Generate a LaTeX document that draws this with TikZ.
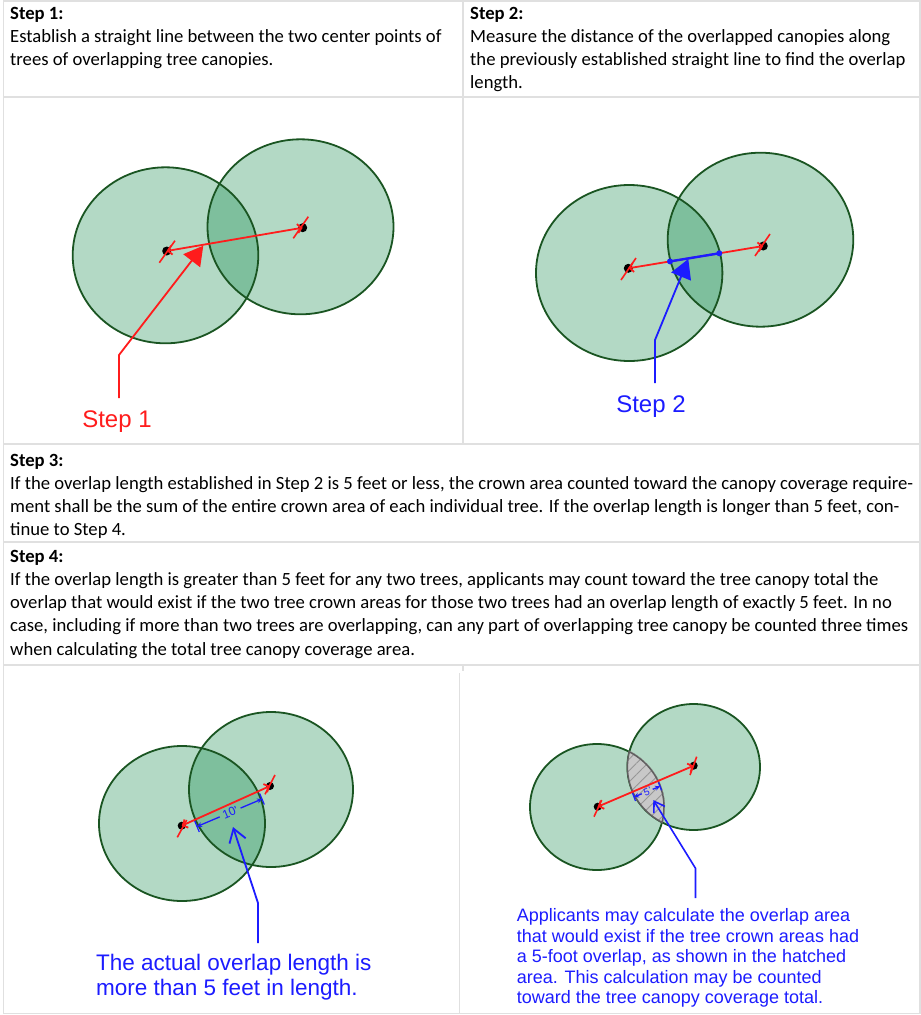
\documentclass[tikz,border=0pt]{standalone}
\usepackage{fontspec}
\setmainfont{Carlito}
\newfontfamily\labelfont{Liberation Sans}
\usetikzlibrary{arrows.meta,calc,patterns.meta}

\definecolor{canopy}{RGB}{5,132,65}
\definecolor{canopyline}{RGB}{26,85,34}
\definecolor{gridgray}{RGB}{224,224,224}
\definecolor{redline}{RGB}{255,28,28}
\definecolor{blueline}{RGB}{28,28,255}
\definecolor{lensgray}{RGB}{200,200,200}
\definecolor{lensline}{RGB}{95,95,95}
\definecolor{hatchgray}{RGB}{150,150,150}

\newlength\refwd
\newcommand\bodyfont{\fontsize{\bodysize}{23.3}\selectfont}
\AtBeginDocument{%
  \settowidth\refwd{\fontsize{10}{12}\selectfont If the overlap length established in Step 2 is 5 feet or less, the crown area counted toward the canopy coverage require-}%
  \pgfmathsetmacro\bodysize{10*903/\refwd}%
  \xdef\bodysize{\bodysize}}

\begin{document}
\begin{tikzpicture}[x=1pt,y=-1pt,
  tableline/.style={draw=gridgray,line width=1.5pt},
  canopyfill/.style={fill=canopy,fill opacity=0.3},
  canopyedge/.style={draw=canopyline,line width=1.8pt},
  centerdot/.style={circle,fill=black,inner sep=0pt,minimum size=9pt},
  smalldot/.style={circle,fill=black,inner sep=0pt,minimum size=8pt},
  bluedot/.style={circle,fill=blueline,inner sep=0pt,minimum size=6pt},
  centerline/.style={draw=redline,line width=1.8pt,{Straight Barb[length=4pt,width=9pt]}-{Straight Barb[length=4pt,width=9pt]}},
  tickline/.style={draw=redline,line width=1.6pt},
  redpointer/.style={draw=redline,line width=1.8pt,-{Triangle[length=19pt,width=21pt]}},
  bluepointer/.style={draw=blueline,line width=1.8pt,-{Triangle[length=19pt,width=21pt]}},
  openpointer/.style={draw=blueline,line width=1.8pt,-{Straight Barb[length=13pt,width=17pt]}},
  smallpointer/.style={draw=blueline,line width=1.6pt,-{Straight Barb[length=10pt,width=13pt]}},
  overlapline/.style={draw=blueline,line width=2.4pt},
  dimline/.style={draw=blueline,line width=1.3pt,-{Stealth[length=5pt,width=5pt]}},
  dimtick/.style={draw=blueline,line width=1.2pt},
  bodytext/.style={anchor=base west,inner sep=0pt},
  steplabel/.style={anchor=base,inner sep=0pt,font=\labelfont\fontsize{24}{28}\selectfont},
  notetext/.style={anchor=base west,inner sep=0pt,text=blueline},
]
\useasboundingbox[fill=white] (0,0) rectangle (921,1015);

% ---------- table rules ----------
\draw[tableline] (3.5,1) -- (920,1);
\draw[tableline] (3.5,0) -- (3.5,1014);
\draw[tableline] (920,0) -- (920,1014);
\draw[tableline] (3.5,97) -- (920,97);
\draw[tableline] (463,0) -- (463,444);
\draw[tableline] (3.5,444) -- (920,444);
\draw[tableline] (3.5,542) -- (920,542);
\draw[tableline] (3.5,665) -- (920,665);
\draw[tableline] (463,665) -- (463,671);
\draw[tableline] (459.5,673) -- (459.5,1014);
\draw[tableline] (3.5,1013.5) -- (920,1013.5);

% ---------- text cells ----------
\node[bodytext] (t1) at (10,19) {\parbox[t]{450pt}{\bodyfont\textbf{Step 1:}\\Establish a straight line between the two center points of\\trees of overlapping tree canopies.}};
\node[bodytext] (t2) at (470,19) {\parbox[t]{450pt}{\bodyfont\textbf{Step 2:}\\Measure the distance of the overlapped canopies along\\the previously established straight line to find the overlap\\length.}};
\node[bodytext] (t3) at (10,466) {\parbox[t]{960pt}{\bodyfont\textbf{Step 3:}\\If the overlap length established in Step 2 is 5 feet or less, the crown area counted toward the canopy coverage require-\\ment shall be the sum of the entire crown area of each individual tree. If the overlap length is longer than 5 feet, con-\\tinue to Step 4.}};
\node[bodytext] (t4) at (10,562) {\parbox[t]{960pt}{\bodyfont\textbf{Step 4:}\\If the overlap length is greater than 5 feet for any two trees, applicants may count toward the tree canopy total the\\overlap that would exist if the two tree crown areas for those two trees had an overlap length of exactly 5 feet. In no\\case, including if more than two trees are overlapping, can any part of overlapping tree canopy be counted three times\\when calculating the total tree canopy coverage area.}};

% ---------- diagram 1 ----------
\coordinate (A1) at (165.5,255.3);
\coordinate (B1) at (300.5,226.8);
\fill[canopyfill] (A1) ellipse [x radius=92.8pt,y radius=88pt];
\fill[canopyfill] (B1) ellipse [x radius=93pt,y radius=87.5pt];
\draw[canopyedge] (A1) ellipse [x radius=92.8pt,y radius=88pt];
\draw[canopyedge] (B1) ellipse [x radius=93pt,y radius=87.5pt];
\node[centerdot] (d1a) at (166.7,251) {};
\node[centerdot] (d1b) at (302.7,227.7) {};
\draw[centerline] (d1a.center) -- (d1b.center);
\draw[tickline] ($(d1a)+(-7.4,11.7)$) -- ($(d1a)+(8.3,-10.3)$);
\draw[tickline] ($(d1b)+(-9.4,10.6)$) -- ($(d1b)+(5.6,-11)$);
\node[steplabel,text=redline] (lab1) at (117,427) {Step 1};
\coordinate (p1s) at (119,398);
\coordinate (p1b) at (119,355);
\coordinate (p1t) at (203.3,245.7);
\draw[redpointer] (p1s) -- (p1b) -- (p1t);

% ---------- diagram 2 ----------
\coordinate (A2) at (629.2,273);
\coordinate (B2) at (760.5,239.7);
\fill[canopyfill] (A2) ellipse [x radius=93.2pt,y radius=88pt];
\fill[canopyfill] (B2) ellipse [x radius=92.8pt,y radius=87pt];
\draw[canopyedge] (A2) ellipse [x radius=93.2pt,y radius=88pt];
\draw[canopyedge] (B2) ellipse [x radius=92.8pt,y radius=87pt];
\node[centerdot] (d2a) at (628.3,268.3) {};
\node[centerdot] (d2b) at (763.3,246) {};
\draw[centerline] (d2a.center) -- (d2b.center);
\draw[tickline] ($(d2a)+(-7.3,11.7)$) -- ($(d2a)+(7.7,-10.3)$);
\draw[tickline] ($(d2b)+(-8.3,10)$) -- ($(d2b)+(6.7,-12)$);
\node[bluedot] (o2a) at (670,261.4) {};
\node[bluedot] (o2b) at (719.3,253.3) {};
\draw[overlapline] (o2a.center) -- (o2b.center);
\node[steplabel,text=blueline] (lab2) at (651,412) {Step 2};
\coordinate (p2s) at (655,383);
\coordinate (p2b) at (655,340);
\coordinate (p2t) at (688.3,259);
\draw[bluepointer] (p2s) -- (p2b) -- (p2t);

% ---------- diagram 3 ----------
\coordinate (A3) at (182,823.5);
\coordinate (B3) at (271,789.5);
\fill[canopyfill] (A3) ellipse [x radius=83pt,y radius=77.5pt];
\fill[canopyfill] (B3) ellipse [x radius=82pt,y radius=77.5pt];
\draw[canopyedge] (A3) ellipse [x radius=83pt,y radius=77.5pt];
\draw[canopyedge] (B3) ellipse [x radius=82pt,y radius=77.5pt];
\node[smalldot] (d3a) at (181.7,825.7) {};
\node[smalldot] (d3b) at (270,786) {};
\draw[centerline] (d3a.center) -- (d3b.center);
\draw[tickline] ($(d3a)+(-4.4,11.6)$) -- ($(d3a)+(5,-5.7)$);
\draw[tickline] ($(d3b)+(-5,8.3)$) -- ($(d3b)+(5,-11)$);
\coordinate (L3) at (197,826.5);
\coordinate (R3) at (262,799);
\draw[dimline] ($(L3)!0.35!(R3)$) -- (L3);
\draw[dimline] ($(L3)!0.67!(R3)$) -- (R3);
\draw[dimtick] ($(L3)+(-2.3,-5.5)$) -- ($(L3)+(2.3,5.5)$);
\draw[dimtick] ($(R3)+(-2.3,-5.5)$) -- ($(R3)+(2.3,5.5)$);
\node[text=blueline,rotate=22.8,inner sep=0pt,font=\labelfont\fontsize{12}{14}\selectfont] (m3) at ($(L3)!0.51!(R3)$) {10\char39};
\coordinate (p3s) at (258,943);
\coordinate (p3b) at (258,903);
\coordinate (p3t) at (233,827);
\draw[openpointer] (p3s) -- (p3b) -- (p3t);
\node[anchor=base west,inner sep=0pt,text=blueline] (n3) at (96,970) {\parbox[t]{320pt}{\labelfont\fontsize{22.5}{25}\selectfont The actual overlap length is\\more than 5 feet in length.}};

% ---------- diagram 4 ----------
\coordinate (A4) at (597,807);
\coordinate (B4) at (693.7,767);
\fill[canopyfill] (A4) ellipse [x radius=67pt,y radius=63pt];
\fill[canopyfill] (B4) ellipse [x radius=66.3pt,y radius=63pt];
\draw[canopyedge] (A4) ellipse [x radius=67pt,y radius=63pt];
\draw[canopyedge] (B4) ellipse [x radius=66.3pt,y radius=63pt];
\begin{scope}
  \clip (A4) ellipse [x radius=68pt,y radius=64pt];
  \fill[lensgray] (B4) ellipse [x radius=66.3pt,y radius=63pt];
  \fill[pattern={Lines[angle=45,distance=8pt,line width=0.9pt]},pattern color=hatchgray] (B4) ellipse [x radius=66.3pt,y radius=63pt];
  \draw[draw=lensline,line width=1.5pt] (B4) ellipse [x radius=66.3pt,y radius=63pt];
\end{scope}
\begin{scope}
  \clip (B4) ellipse [x radius=67.3pt,y radius=64pt];
  \draw[draw=lensline,line width=1.5pt] (A4) ellipse [x radius=67pt,y radius=63pt];
\end{scope}
\node[smalldot] (d4a) at (597.7,806.7) {};
\node[smalldot] (d4b) at (693.7,765.7) {};
\draw[centerline] (d4a.center) -- (d4b.center);
\draw[tickline] ($(d4a)+(-3.7,10)$) -- ($(d4a)+(4,-6.7)$);
\draw[tickline] ($(d4b)+(-3.7,9.3)$) -- ($(d4b)+(3,-9)$);
\coordinate (L4) at (634,797);
\coordinate (R4) at (660,786.3);
\draw[dimline] ($(L4)!0.3!(R4)$) -- (L4);
\draw[dimline] ($(L4)!0.72!(R4)$) -- (R4);
\draw[dimtick] ($(L4)+(-1.5,-4)$) -- ($(L4)+(1.5,4)$);
\draw[dimtick] ($(R4)+(-1.5,-4)$) -- ($(R4)+(1.5,4)$);
\node[text=blueline,rotate=22.4,inner sep=0pt,font=\labelfont\fontsize{10}{12}\selectfont] (m4) at ($(L4)!0.52!(R4)$) {5\char39};
\coordinate (p4s) at (695.5,898);
\coordinate (p4b) at (695.5,868.3);
\coordinate (p4t) at (653.3,800);
\draw[smallpointer] (p4s) -- (p4b) -- (p4t);
\node[notetext] (n4) at (516.7,921.5) {\parbox[t]{400pt}{\labelfont\fontsize{18}{20.6}\selectfont Applicants may calculate the overlap area\\that would exist if the tree crown areas had\\a 5-foot overlap, as shown in the hatched\\area. This calculation may be counted\\toward the tree canopy coverage total.}};
\end{tikzpicture}
\end{document}
